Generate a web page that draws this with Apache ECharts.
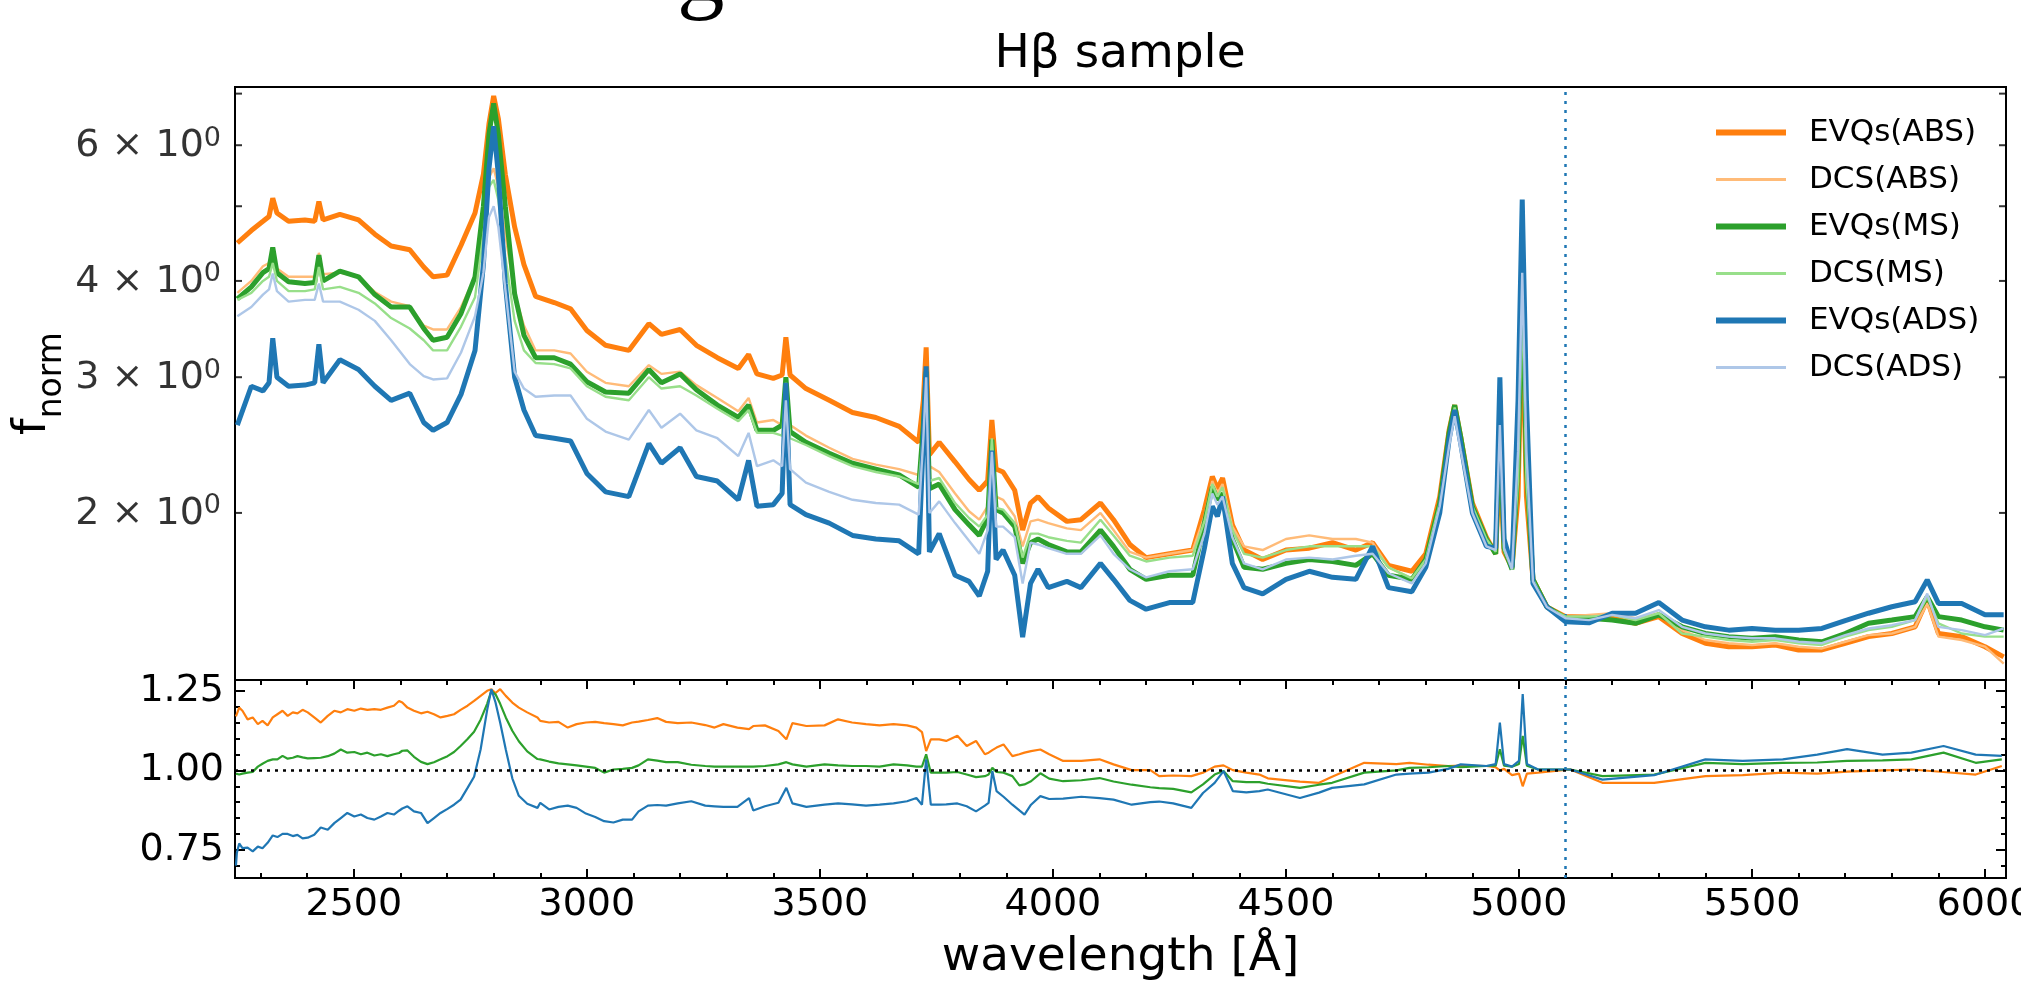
<!DOCTYPE html>
<html><head><meta charset="utf-8">
<script src="https://cdn.jsdelivr.net/npm/echarts@6/dist/echarts.min.js"></script>
<style>html,body{margin:0;padding:0;background:#fff}#c{width:2021px;height:989px}</style>
</head><body><div id="c"></div>
<script>
// ---------------- DATA ----------------
const wl = [2250,2280,2305,2318,2326,2335,2360,2395,2416,2425,
2434,2470,2510,2545,2580,2620,2650,2670,2700,2730,
2760,2778,2790,2800,2810,2825,2845,2865,2890,2930,
2965,3000,3040,3090,3133,3160,3200,3235,3280,3325,
3347,3365,3400,3419,3427,3436,3470,3520,3570,3620,
3670,3712,3722,3728,3735,3756,3790,3820,3842,3860,
3869,3878,3893,3918,3935,3952,3968,3990,4030,4060,
4102,4130,4165,4200,4250,4300,4325,4342,4353,4364,
4385,4410,4450,4500,4550,4600,4650,4686,4720,4770,
4800,4830,4850,4862,4875,4900,4930,4950,4959,4968,
4985,4998,5007,5016,5030,5060,5100,5150,5200,5250,
5300,5350,5400,5450,5500,5550,5600,5650,5700,5750,
5800,5850,5876,5900,5950,6000,6040];

const evqsABS = [4.48,4.65,4.78,4.85,5.12,4.9,4.78,4.8,4.78,5.07,
4.8,4.88,4.8,4.6,4.44,4.39,4.17,4.05,4.07,4.45,
4.9,5.5,6.4,6.95,6.5,5.5,4.7,4.2,3.82,3.75,
3.68,3.45,3.3,3.25,3.52,3.41,3.46,3.3,3.18,3.08,
3.21,3.03,2.99,3.02,3.38,3.02,2.9,2.8,2.7,2.66,
2.59,2.47,2.8,3.28,2.38,2.47,2.33,2.21,2.14,2.2,
2.64,2.28,2.26,2.14,1.9,2.06,2.1,2.03,1.95,1.96,
2.06,1.96,1.82,1.75,1.77,1.79,2.02,2.23,2.15,2.22,
1.93,1.79,1.74,1.79,1.8,1.83,1.79,1.83,1.71,1.68,
1.77,2.10,2.56,2.76,2.51,2.06,1.86,1.77,2.35,1.78,
1.70,2.1,3.7,2.1,1.64,1.51,1.467,1.467,1.46,1.438,
1.467,1.395,1.355,1.341,1.341,1.348,1.328,1.328,1.355,1.382,
1.395,1.423,1.542,1.395,1.382,1.341,1.301];

const dcsABS = [3.86,4.0,4.18,4.22,4.32,4.15,4.05,4.05,4.05,4.35,
4.08,4.1,4.05,3.87,3.76,3.71,3.5,3.46,3.46,3.7,
4.05,4.6,5.45,5.6,5.3,4.6,3.85,3.5,3.25,3.25,
3.22,3.05,2.95,2.92,3.11,3.03,3.05,2.93,2.82,2.71,
2.82,2.62,2.64,2.6,3.0,2.6,2.52,2.43,2.35,2.31,
2.28,2.24,2.6,2.98,2.3,2.26,2.12,2.01,1.96,2.04,
2.45,2.1,2.08,1.98,1.81,1.95,1.96,1.94,1.91,1.9,
2.0,1.9,1.78,1.75,1.77,1.79,1.98,2.2,2.12,2.18,
1.92,1.81,1.79,1.85,1.87,1.85,1.85,1.83,1.70,1.645,
1.74,2.08,2.54,2.75,2.51,2.06,1.86,1.77,2.4,1.78,
1.70,2.2,3.9,2.2,1.64,1.51,1.467,1.475,1.482,1.46,
1.482,1.409,1.368,1.355,1.348,1.355,1.341,1.334,1.361,1.388,
1.395,1.423,1.526,1.382,1.368,1.341,1.275];

const evqsMS = [3.79,3.93,4.1,4.15,4.42,4.1,3.99,3.97,3.98,4.32,
4.0,4.12,4.05,3.84,3.7,3.7,3.47,3.35,3.38,3.63,
4.05,5.0,6.2,6.8,6.2,5.0,3.85,3.4,3.18,3.18,
3.12,2.96,2.87,2.86,3.07,2.95,3.03,2.89,2.76,2.66,
2.76,2.56,2.56,2.6,3.0,2.55,2.47,2.39,2.32,2.28,
2.24,2.16,2.6,3.05,2.15,2.18,2.02,1.93,1.87,1.97,
2.49,2.02,2.0,1.92,1.72,1.83,1.85,1.82,1.78,1.78,
1.9,1.81,1.69,1.64,1.66,1.66,1.94,2.16,2.08,2.12,
1.85,1.7,1.69,1.72,1.74,1.73,1.71,1.77,1.66,1.64,
1.74,2.06,2.54,2.76,2.51,2.04,1.85,1.77,2.6,1.8,
1.69,2.3,4.2,2.3,1.64,1.51,1.46,1.46,1.452,1.438,
1.475,1.423,1.395,1.382,1.375,1.382,1.368,1.361,1.395,1.438,
1.452,1.467,1.557,1.467,1.452,1.423,1.409];

const dcsMS = [3.78,3.86,4.0,4.05,4.22,4.0,3.88,3.88,3.9,4.17,
3.9,3.93,3.86,3.74,3.58,3.47,3.35,3.25,3.25,3.49,
3.81,4.6,5.3,5.41,5.1,4.3,3.55,3.25,3.13,3.12,
3.08,2.92,2.83,2.8,3.0,2.9,2.92,2.84,2.73,2.63,
2.72,2.54,2.54,2.52,2.95,2.5,2.45,2.37,2.3,2.26,
2.23,2.18,2.55,3.0,2.2,2.22,2.06,1.97,1.92,1.99,
2.5,2.03,2.02,1.94,1.75,1.88,1.88,1.86,1.84,1.83,
1.96,1.87,1.76,1.73,1.75,1.76,1.95,2.18,2.1,2.16,
1.9,1.77,1.75,1.79,1.81,1.81,1.81,1.81,1.70,1.645,
1.74,2.06,2.51,2.74,2.49,2.04,1.85,1.78,2.45,1.79,
1.69,2.2,3.8,2.2,1.64,1.51,1.467,1.467,1.475,1.452,
1.482,1.395,1.382,1.368,1.361,1.368,1.355,1.348,1.382,1.409,
1.423,1.452,1.557,1.438,1.395,1.382,1.382];

const evqsADS = [2.6,2.92,2.88,2.95,3.37,3.0,2.92,2.93,2.95,3.31,
2.95,3.16,3.07,2.92,2.8,2.86,2.62,2.56,2.62,2.85,
3.25,4.2,5.6,6.35,5.5,3.97,3.0,2.72,2.52,2.5,
2.48,2.25,2.13,2.1,2.46,2.32,2.43,2.23,2.2,2.08,
2.34,2.04,2.05,2.12,2.95,2.05,1.99,1.94,1.87,1.85,
1.84,1.77,2.5,3.1,1.78,1.88,1.66,1.63,1.56,1.68,
2.41,1.74,1.79,1.66,1.38,1.62,1.69,1.6,1.63,1.6,
1.72,1.64,1.54,1.5,1.53,1.53,1.8,2.04,1.98,2.1,
1.72,1.6,1.57,1.64,1.68,1.65,1.64,1.81,1.6,1.58,
1.7,2.0,2.49,2.72,2.46,2.0,1.81,1.8,3.0,1.85,
1.7,2.8,5.1,2.8,1.62,1.51,1.445,1.44,1.482,1.482,
1.53,1.452,1.423,1.409,1.416,1.409,1.409,1.416,1.45,1.482,
1.511,1.534,1.637,1.526,1.526,1.475,1.475];

const dcsADS = [3.6,3.7,3.84,3.9,4.09,3.88,3.76,3.78,3.78,3.97,
3.76,3.76,3.67,3.55,3.35,3.12,3.01,2.98,2.99,3.23,
3.6,4.1,4.84,5.0,4.7,3.9,3.05,2.9,2.83,2.84,
2.84,2.65,2.55,2.49,2.72,2.58,2.69,2.56,2.5,2.37,
2.54,2.3,2.34,2.3,2.8,2.28,2.19,2.13,2.08,2.06,
2.05,1.99,2.5,3.0,2.0,2.07,1.94,1.84,1.77,1.9,
2.4,1.92,1.92,1.86,1.62,1.83,1.82,1.8,1.77,1.77,
1.87,1.77,1.69,1.65,1.68,1.69,1.88,2.12,2.05,2.1,
1.86,1.72,1.69,1.74,1.75,1.74,1.76,1.77,1.67,1.62,
1.72,2.04,2.44,2.67,2.41,2.0,1.81,1.79,2.6,1.8,
1.69,2.4,4.1,2.4,1.63,1.51,1.46,1.452,1.475,1.46,
1.496,1.423,1.395,1.382,1.375,1.375,1.361,1.355,1.388,1.416,
1.43,1.452,1.572,1.423,1.409,1.388,1.416];

const ratioWl = [2247,
2249,2254,2261,2272,2283,2294,2304,2315,2326,2336,
2347,2358,2369,2379,2390,2401,2415,2429,2444,2458,
2472,2486,2501,2515,2529,2544,2558,2572,2586,2597,
2604,2615,2629,2644,2658,2672,2686,2701,2715,2729,
2744,2758,2772,2786,2795,2804,2814,2826,2840,2854,
2872,2894,
2900,2919,2939,2959,2978,2998,3018,3037,3057,3077,
3097,3111,3131,3151,3170,3195,3224,3254,3274,3293,
3323,3348,3357,3382,3411,3428,3441,3471,3510,3539,
3569,3599,3628,3658,3687,3707,3719,3728,3738,3756,
3771,3795,3815,3835,3854,3862,3870,3879,3894,3913,
3928,3939,3953,3973,3992,4022,4061,4100,4130,4169,
4209,4228,4258,4297,4322,4347,4366,4386,4415,4443,
4461,4530,4571,4599,4668,4737,4765,4806,4848,4875,
4930,4950,4959,4968,4985,5000,5008,5017,5041,5110,
5179,5290,5400,5480,5566,5640,5704,5780,5842,5911,
5980,6036];

const ratioABS = [1.17,
1.172,1.198,1.188,1.161,1.167,1.146,1.156,1.142,1.167,1.177,
1.188,1.172,1.183,1.18,1.191,1.183,1.167,1.151,1.172,1.188,
1.183,1.193,1.188,1.195,1.191,1.193,1.191,1.198,1.204,1.219,
1.214,1.198,1.188,1.18,1.185,1.177,1.167,1.172,1.177,1.191,
1.204,1.219,1.235,1.251,1.256,1.244,1.256,1.235,1.214,1.198,
1.183,1.167,
1.156,1.151,1.153,1.135,1.146,1.151,1.153,1.149,1.146,1.142,
1.151,1.154,1.159,1.165,1.153,1.149,1.151,1.143,1.135,1.146,
1.135,1.13,1.14,1.142,1.124,1.098,1.149,1.14,1.142,1.161,
1.151,1.146,1.142,1.146,1.142,1.135,1.121,1.061,1.098,1.098,
1.093,1.109,1.077,1.093,1.051,1.056,1.064,1.072,1.082,1.045,
1.051,1.056,1.061,1.066,1.051,1.03,1.03,1.035,1.019,1.001,
1.001,0.982,0.984,0.982,0.993,1.012,1.016,1.001,0.993,0.987,
0.975,0.965,0.961,0.98,1.024,1.02,1.024,1.018,1.014,1.015,
1.014,1.01,1.0,1.005,0.985,0.99,0.95,0.99,0.993,1.003,
0.961,0.961,0.982,0.985,0.993,0.99,0.996,1.0,1.003,0.995,
0.987,1.014];

const ratioMS = [0.99,
0.993,0.987,0.99,0.993,0.995,1.012,1.021,1.03,1.035,1.035,
1.046,1.037,1.04,1.045,1.041,1.038,1.039,1.04,1.045,1.053,
1.066,1.056,1.058,1.051,1.056,1.047,1.051,1.045,1.051,1.055,
1.062,1.063,1.043,1.027,1.02,1.026,1.035,1.045,1.058,1.077,
1.099,1.122,1.16,1.21,1.25,1.24,1.21,1.167,1.125,1.092,
1.06,1.036,
1.035,1.028,1.022,1.019,1.016,1.012,1.008,0.993,1.003,1.005,
1.008,1.016,1.035,1.031,1.026,1.026,1.018,1.014,1.012,1.012,
1.012,1.012,1.012,1.014,1.019,1.026,1.019,1.012,1.019,1.016,
1.014,1.014,1.012,1.019,1.016,1.012,1.012,1.051,0.993,0.993,
0.993,0.995,0.987,0.979,0.982,0.987,1.008,0.995,0.993,0.982,
0.953,0.956,0.966,0.991,0.974,0.966,0.969,0.976,0.965,0.955,
0.947,0.944,0.942,0.931,0.956,0.987,0.998,0.966,0.963,0.963,
0.958,0.945,0.955,0.961,0.993,1.0,1.008,1.01,1.014,1.01,
1.014,1.015,1.067,1.015,1.012,1.02,1.109,1.015,1.003,1.003,
0.982,0.987,1.024,1.02,1.024,1.025,1.03,1.032,1.035,1.056,
1.024,1.035];

const ratioADS = [0.70,
0.74,0.77,0.755,0.757,0.745,0.76,0.755,0.772,0.795,0.79,
0.8,0.8,0.793,0.797,0.786,0.788,0.797,0.82,0.813,0.834,
0.85,0.866,0.855,0.861,0.85,0.845,0.855,0.866,0.861,0.873,
0.88,0.887,0.871,0.866,0.834,0.85,0.866,0.879,0.892,0.908,
0.945,0.98,1.066,1.19,1.256,1.214,1.15,1.066,0.975,0.92,
0.895,0.882,
0.898,0.877,0.885,0.889,0.882,0.864,0.853,0.84,0.836,0.845,
0.845,0.871,0.889,0.891,0.889,0.896,0.903,0.889,0.887,0.885,
0.885,0.913,0.874,0.887,0.898,0.945,0.896,0.885,0.892,0.896,
0.893,0.889,0.892,0.896,0.903,0.913,0.892,1.035,0.892,0.892,
0.893,0.896,0.887,0.871,0.889,0.898,0.998,0.935,0.917,0.892,
0.874,0.861,0.892,0.919,0.91,0.911,0.917,0.913,0.908,0.892,
0.9,0.902,0.896,0.882,0.929,0.961,0.998,0.935,0.931,0.935,
0.94,0.913,0.93,0.945,0.956,0.987,0.99,0.993,1.005,1.019,
1.014,1.02,1.151,1.02,1.012,1.03,1.241,1.02,1.003,1.003,
0.971,0.985,1.035,1.03,1.035,1.05,1.067,1.05,1.056,1.077,
1.05,1.046];

const xTickLabels = [2500,3000,3500,4000,4500,5000,5500,6000];
const fTickLabels = [2,3,4,6];
const fTicks = [2,3,4,5,6,7];
const rTickLabels = [0.75,1.00,1.25];
const rMinorTicks = [0.70,0.75,0.80,0.85,0.90,0.95,1.00,1.05,1.10,1.15,1.20,1.25];
const dividerWl = 5100;
const xMinorTicks = [];
for (let v = 2300; v <= 6000; v += 100) xMinorTicks.push(v);

// ---------------- LAYOUT / STYLE ----------------
const XMIN = 2245, XMAX = 6045;
const FMIN = 1.214, FMAX = 7.14;
const RMIN = 0.661, RMAX = 1.285;
const FONT = '"DejaVu Sans", sans-serif';
const GL = 235, GR = 15, GT = 87, GH = 593, BT = 680, BH = 198;
const ICON_THICK = 'path://M0,0M0,4L70,4L70,10L0,10ZM70,14';
const ICON_THIN = 'path://M0,0M0,5.6L70,5.6L70,8.4L0,8.4ZM70,14';

const topDefs = [
  {name:'EVQs(ABS)', data:evqsABS, color:'#ff7f0e', w:5, icon:ICON_THICK},
  {name:'DCS(ABS)',  data:dcsABS,  color:'#ffbb78', w:2.4, icon:ICON_THIN},
  {name:'EVQs(MS)',  data:evqsMS,  color:'#2ca02c', w:5, icon:ICON_THICK},
  {name:'DCS(MS)',   data:dcsMS,   color:'#98df8a', w:2.4, icon:ICON_THIN},
  {name:'EVQs(ADS)', data:evqsADS, color:'#1f77b4', w:5, icon:ICON_THICK},
  {name:'DCS(ADS)',  data:dcsADS,  color:'#aec7e8', w:2.4, icon:ICON_THIN}
];
const botDefs = [
  {name:'r_ABS', data:ratioABS, color:'#ff7f0e'},
  {name:'r_MS',  data:ratioMS,  color:'#2ca02c'},
  {name:'r_ADS', data:ratioADS, color:'#1f77b4'}
];
const pairs = (xs, ys) => xs.map((x, i) => [x, ys[i]]);

const series = [];
topDefs.forEach((d, i) => {
  const s = {
    name:d.name, type:'line', xAxisIndex:0, yAxisIndex:0,
    data:pairs(wl, d.data), showSymbol:false, symbol:'none',
    lineStyle:{color:d.color, width:d.w}, itemStyle:{color:d.color, borderWidth:0},
    z: 2 + i, silent:true, clip:true
  };
  if (i === 0) {
    s.markLine = {silent:true, symbol:'none', label:{show:false}, animation:false,
      lineStyle:{color:'#1f77b4', width:2.5, type:[3,6]},
      data:[{xAxis:dividerWl}]};
  }
  series.push(s);
});
botDefs.forEach((d, i) => {
  const s = {
    name:d.name, type:'line', xAxisIndex:1, yAxisIndex:1,
    data:pairs(ratioWl, d.data), showSymbol:false, symbol:'none',
    lineStyle:{color:d.color, width:2.2}, itemStyle:{color:d.color},
    z: 2 + i, silent:true, clip:true
  };
  if (i === 2) {
    s.markLine = {silent:true, symbol:'none', label:{show:false}, animation:false,
      data:[
        {yAxis:1, lineStyle:{color:'#000', width:2.5, type:[3,5]}},
        {xAxis:dividerWl, lineStyle:{color:'#1f77b4', width:2.5, type:[3,6]}}
      ]};
  }
  series.push(s);
});
// log-axis ticks (left & right) and labels for top panel
series.push({type:'scatter', xAxisIndex:0, yAxisIndex:0, silent:true, clip:false, z:20,
  data:fTicks.map(v => [XMIN, v]), symbol:'rect', symbolSize:[7,2], symbolOffset:[3.5,0],
  itemStyle:{color:'#000'}});
series.push({type:'scatter', xAxisIndex:0, yAxisIndex:0, silent:true, clip:false, z:20,
  data:fTicks.map(v => [XMAX, v]), symbol:'rect', symbolSize:[7,2], symbolOffset:[-3.5,0],
  itemStyle:{color:'#000'}});
series.push({type:'scatter', xAxisIndex:0, yAxisIndex:0, silent:true, clip:false, z:20,
  data:fTickLabels.map(v => [XMIN, v]), symbolSize:0, itemStyle:{color:'transparent'},
  label:{show:true, position:'left', distance:14,
    formatter:p => '{a|' + p.value[1] + ' × 10}{b|0}',
    rich:{a:{fontSize:38, fontFamily:FONT, color:'#000', lineHeight:40, verticalAlign:'bottom'},
          b:{fontSize:27, fontFamily:FONT, color:'#000', lineHeight:27, verticalAlign:'top'}}}});

const tickStyle = {color:'#000', width:2};
function xAx(grid, pos, vals, len, labels) {
  const a = {gridIndex:grid, type:'value', min:XMIN, max:XMAX, position:pos,
    axisLine:{show:false}, splitLine:{show:false},
    axisTick:{show:true, inside:true, length:len, lineStyle:tickStyle, customValues:vals},
    axisLabel:{show:false}};
  if (labels) {
    a.axisLabel = {show:true, customValues:vals, margin:8, fontSize:38, fontFamily:FONT, color:'#000',
      formatter:v => String(v)};
    a.name = 'wavelength [Å]'; a.nameLocation = 'middle'; a.nameGap = 56;
    a.nameTextStyle = {fontSize:47, fontFamily:FONT, color:'#000'};
  }
  return a;
}
function yAx(pos, vals, len, labels) {
  const a = {gridIndex:1, type:'value', min:RMIN, max:RMAX, position:pos,
    axisLine:{show:false}, splitLine:{show:false},
    axisTick:{show:true, inside:true, length:len, lineStyle:tickStyle, customValues:vals},
    axisLabel:{show:false}};
  if (labels) a.axisLabel = {show:true, customValues:vals, margin:11, fontSize:38, fontFamily:FONT,
    color:'#000', formatter:v => v.toFixed(2)};
  return a;
}

const option = {
  animation:false,
  backgroundColor:'#fff',
  grid:[
    {left:GL, right:GR, top:GT, height:GH, show:true, borderColor:'#000', borderWidth:2,
     backgroundColor:'transparent', containLabel:false, outerBoundsMode:'none'},
    {left:GL, right:GR, top:BT, height:BH, show:true, borderColor:'#000', borderWidth:2,
     backgroundColor:'transparent', containLabel:false, outerBoundsMode:'none'}
  ],
  xAxis:[
    {gridIndex:0, type:'value', min:XMIN, max:XMAX, axisLine:{show:false}, axisTick:{show:false},
     axisLabel:{show:false}, splitLine:{show:false}},
    xAx(1, 'bottom', xTickLabels, 9, true),
    xAx(1, 'bottom', xMinorTicks, 5, false),
    xAx(1, 'top', xTickLabels, 9, false),
    xAx(1, 'top', xMinorTicks, 5, false)
  ],
  yAxis:[
    {gridIndex:0, type:'log', logBase:10, min:FMIN, max:FMAX,
     axisLine:{show:false}, axisTick:{show:false}, axisLabel:{show:false}, splitLine:{show:false},
     name:'{f|f}{s|norm}', nameLocation:'middle', nameGap:166, nameRotate:90,
     nameTextStyle:{rich:{
       f:{fontSize:47, fontFamily:FONT, color:'#000', lineHeight:60, verticalAlign:'top'},
       s:{fontSize:33, fontFamily:FONT, color:'#000', lineHeight:33, verticalAlign:'bottom'}}}},
    yAx('left', rTickLabels, 10, true),
    yAx('left', rMinorTicks, 5, false),
    yAx('right', rTickLabels, 10, false),
    yAx('right', rMinorTicks, 5, false)
  ],
  legend:{
    show:true, orient:'vertical', left:1711, top:112, itemWidth:70, itemHeight:14, itemGap:16,
    data:topDefs.map(d => ({name:d.name, icon:d.icon})), selectedMode:false,
    itemStyle:{borderWidth:0}, symbolKeepAspect:false,
    textStyle:{fontSize:31, fontFamily:FONT, color:'#000', padding:[0,0,0,18]}
  },
  graphic:[
    {type:'text', x:1120, y:55, silent:true,
     style:{text:'Hβ sample', font:'47px "DejaVu Sans"', fill:'#000',
            align:'center', verticalAlign:'middle', textAlign:'center', textVerticalAlign:'middle'}},
    {type:'text', x:677, y:24, silent:true,
     style:{text:'g', fontSize:95, fontFamily:'Liberation Serif', fill:'#000',
            align:'left', verticalAlign:'bottom', textAlign:'left', textVerticalAlign:'bottom'}}
  ],
  series:series
};

const chart = echarts.init(document.getElementById('c'), null, {renderer:'canvas'});
chart.setOption(option);
</script>
</body></html>
